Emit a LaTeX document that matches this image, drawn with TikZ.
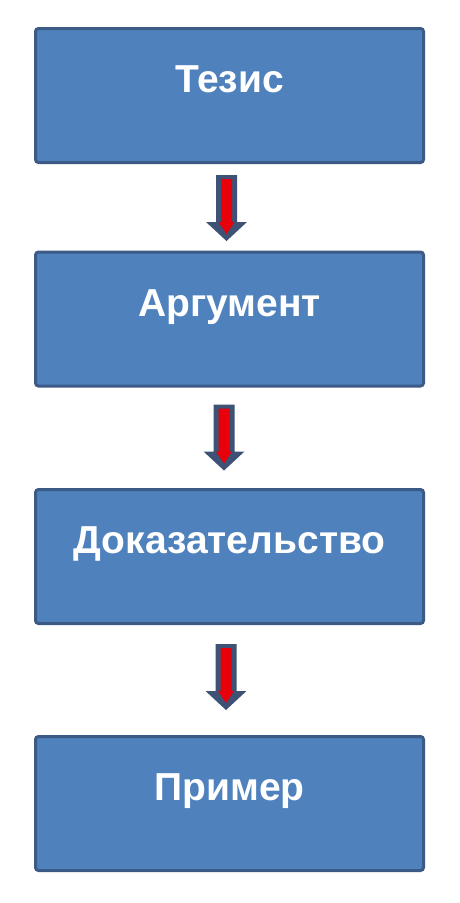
\documentclass[tikz,border=0pt]{standalone}
\usepackage{fontspec}
\setmainfont{Liberation Sans}
\usetikzlibrary{calc}
\definecolor{boxfill}{HTML}{4F81BD}
\definecolor{boxline}{HTML}{3B5A86}
\definecolor{arrdark}{HTML}{3E5275}
\definecolor{arrred}{HTML}{E8000B}
\begin{document}
\begin{tikzpicture}[x=1pt,y=-1pt,
  flowbox/.style={draw=boxline, fill=boxfill, line width=3pt, rounded corners=3pt,
    minimum width=388pt, minimum height=134pt, inner sep=0pt,
    text height=0pt, text depth=0pt, text=white,
    font=\fontsize{39}{41}\selectfont\bfseries},
  flowarr/.pic={
    \fill[arrdark] (-10.5,0) -- (10.5,0) -- (10.5,47) -- (20.5,47) -- (0,66) -- (-20.5,47) -- (-10.5,47) -- cycle;
    \fill[arrred] (-5.5,4) -- (5.5,4) -- (5.5,47) -- (8,47) -- (0,59) -- (-8,47) -- (-5.5,47) -- cycle;
  }]
\fill[white] (0,0) rectangle (460,903);
\useasboundingbox (0,0) rectangle (460,903);
\node[flowbox] (b1) at (229.5,95.5) {\raisebox{3pt}{Тезис}};
\node[flowbox] (b2) at (229.5,319) {\raisebox{3pt}{Аргумент}};
\node[flowbox] (b3) at (229.5,556.5) {\raisebox{3pt}{Доказательство}};
\node[flowbox] (b4) at (229.5,803.5) {\raisebox{3pt}{Пример}};
\pic at ($(b1.south)+(-3,11)$) {flowarr};
\pic at ($(b2.south)+(-5.5,17)$) {flowarr};
\pic at ($(b3.south)+(-3.5,19)$) {flowarr};
\end{tikzpicture}
\end{document}
